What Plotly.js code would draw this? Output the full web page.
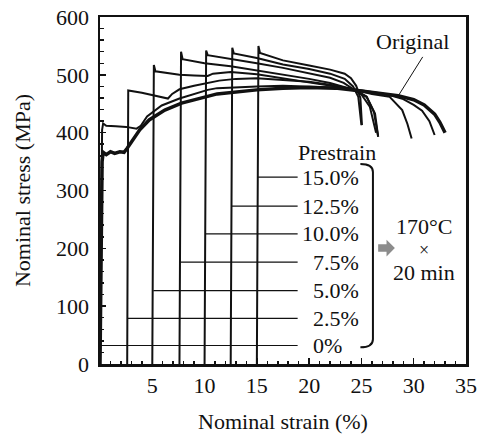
<!DOCTYPE html>
<html>
<head>
<meta charset="utf-8">
<script src="https://cdn.plot.ly/plotly-3.0.1.min.js"></script>
<style>html,body{margin:0;padding:0;background:#fff;}#chart{width:477px;height:434px;}</style>
</head>
<body>
<div id="chart"></div>
<script>
// ---- data ----
const strainOriginal = [0,0.1,0.2,0.3,0.6,1.0,1.4,1.9,2.3,2.6,3.1,3.8,4.7,6.2,7.8,10.3,11.2,15,17.5,20,22.5,25,27,28.5,30,31,32,32.5,33.0];
const stressOriginal = [0,200,350,366,362,367,364,367,366,373,387,405,422,439,451,463,467,474,477,478,477,472,468,464,457,448,432,418,400];

const strainPre0 = [0,0.1,0.2,0.3,0.6,1.5,2.5,3.5,3.9,4.5,5.9,7.6,10.3,11.2,13,15,17.5,20,22.5,24,26,27.5,29,30,30.8,31.5,32.0];
const stressPre0 = [0,250,405,416,412,411,410,407,412,428,447,459,474,477,479,480,481,480,478,476,471,466,458,448,438,420,396];

const strainPre25 = [2.6,2.65,2.7,4.0,5.2,6.3,6.5,6.9,7.6,9,10.3,11.4,13,15,17.5,20,22,24,26,27.7,28.9,29.4,29.8];
const stressPre25 = [0,300,473,469,464,459,459,467,475,481,486,490,493,494,491,488,483,476,467,462,439,415,390];

const strainPre5 = [5.0,5.1,5.15,5.3,6.5,7.6,9,10.3,10.8,12.5,15,17.5,20,22,23.5,24.5,25.5,26.3,26.6];
const stressPre5 = [0,300,517,506,503,500,499,498,502,505,501,494,488,482,477,472,462,433,393];

const strainPre75 = [7.6,7.7,7.75,7.9,10,12.5,15,17.5,20,22,23.5,24.5,25.5,26.2,26.6];
const stressPre75 = [0,300,540,527,520,515,508,500,493,486,479,473,462,435,393];

const strainPre10 = [10.0,10.1,10.15,10.3,12.5,15,17.5,20,22,23.3,24.2,25.0,25.8,26.4];
const stressPre10 = [0,300,542,534,528,520,512,503,495,486,476,466,445,400];

const strainPre125 = [12.5,12.6,12.65,12.8,15,17.5,20,22,23.4,24.2,24.7,25.0];
const stressPre125 = [0,300,547,537,529,518,510,502,493,480,462,413];

const strainPre15 = [15.0,15.1,15.15,15.3,17.5,20,22,23.4,24.0,24.5,24.9,25.05];
const stressPre15 = [0,300,550,538,525,516,509,502,494,481,460,413];

const prestrainLabels = ['15.0%','12.5%','10.0%','7.5%','5.0%','2.5%','0%'];
const labelStress = [323,273,225,176,127,79,32];
const labelStrainStart = [15.1,12.6,10.1,7.7,5.1,2.65,0];
const labelStrainEnd = 18.9;
const labelTextStrain = [19.1,19.1,19.1,20.2,20.2,20.2,20.2];

const xTickVals = [0,5,10,15,20,25,30,35];
const xTickText = ['','5','10','15','20','25','30','35'];
const yTickVals = [0,100,200,300,400,500,600];

// ---- build traces ----
const FONT = 'Times New Roman, Liberation Serif, Tinos, DejaVu Serif, serif';
const curves = [
  [strainPre15, stressPre15],
  [strainPre125, stressPre125],
  [strainPre10, stressPre10],
  [strainPre75, stressPre75],
  [strainPre5, stressPre5],
  [strainPre25, stressPre25],
  [strainPre0, stressPre0]
];
const traces = [];
curves.forEach(c => traces.push({x:c[0], y:c[1], mode:'lines', line:{color:'#111', width:2}, hoverinfo:'skip'}));
traces.push({x:strainOriginal, y:stressOriginal, mode:'lines', line:{color:'#111', width:3.5}, hoverinfo:'skip'});
labelStress.forEach((s,i) => traces.push({x:[labelStrainStart[i], labelStrainEnd], y:[s,s], mode:'lines', line:{color:'#111', width:1.2}, hoverinfo:'skip'}));

const txtFont = {family:FONT, size:22, color:'#111'};
const annotations = prestrainLabels.map((t,i) => ({
  x: labelTextStrain[i], y: labelStress[i], xref:'x', yref:'y', text:t, showarrow:false,
  xanchor:'left', yanchor:'middle', font:txtFont
}));
annotations.push({x:22.7, y:365, xref:'x', yref:'y', text:'Prestrain', showarrow:false, xanchor:'center', yanchor:'middle', font:txtFont});
annotations.push({x:29.9, y:557, xref:'x', yref:'y', text:'Original', showarrow:false, xanchor:'center', yanchor:'middle', font:txtFont});
annotations.push({x:31.0, y:237, xref:'x', yref:'y', text:'170°C', showarrow:false, xanchor:'center', yanchor:'middle', font:txtFont});
annotations.push({x:31.0, y:197, xref:'x', yref:'y', text:'×', showarrow:false, xanchor:'center', yanchor:'middle', font:{family:FONT, size:18, color:'#111'}});
annotations.push({x:31.0, y:159, xref:'x', yref:'y', text:'20 min', showarrow:false, xanchor:'center', yanchor:'middle', font:txtFont});

const shapes = [
  {type:'line', xref:'x', yref:'y', x0:30.86, y0:531, x1:28.5, y1:463, line:{color:'#111', width:1}},
  {type:'path', xref:'x', yref:'y', path:'M 24.9,346 Q 26.1,346 26.1,332 L 26.1,43 Q 26.1,29 24.9,29', line:{color:'#111', width:2}},
  {type:'path', xref:'x', yref:'y', path:'M 26.6,194 L 27.4,194 L 27.4,186 L 28.2,200.5 L 27.4,215 L 27.4,207 L 26.6,207 Z', fillcolor:'#8c8c8c', line:{color:'#8c8c8c', width:0}}
];

const layout = {
  width:477, height:434,
  margin:{l:100, r:11, t:17, b:70},
  paper_bgcolor:'#fff', plot_bgcolor:'#fff',
  showlegend:false,
  font:txtFont,
  xaxis:{
    range:[0,35], tickvals:xTickVals, ticktext:xTickText,
    ticks:'inside', ticklen:6, tickwidth:1.5, tickcolor:'#111',
    minor:{dtick:1, ticks:'inside', ticklen:3, tickwidth:1.5, tickcolor:'#111', showgrid:false},
    showline:true, linewidth:2.5, linecolor:'#111', mirror:true,
    showgrid:false, zeroline:false,
    tickfont:txtFont,
    title:{text:'Nominal strain (%)', font:txtFont, standoff:19}
  },
  yaxis:{
    range:[0,600], tickvals:yTickVals,
    ticks:'inside', ticklen:6, tickwidth:1.5, tickcolor:'#111',
    minor:{dtick:20, ticks:'inside', ticklen:4, tickwidth:1.5, tickcolor:'#111', showgrid:false},
    showline:true, linewidth:2.5, linecolor:'#111', mirror:true,
    showgrid:false, zeroline:false,
    ticklabelstandoff:4,
    tickfont:txtFont,
    title:{text:'Nominal stress (MPa)', font:txtFont, standoff:20}
  },
  annotations:annotations,
  shapes:shapes
};

Plotly.newPlot('chart', traces, layout, {staticPlot:true, displayModeBar:false});
</script>
</body>
</html>
